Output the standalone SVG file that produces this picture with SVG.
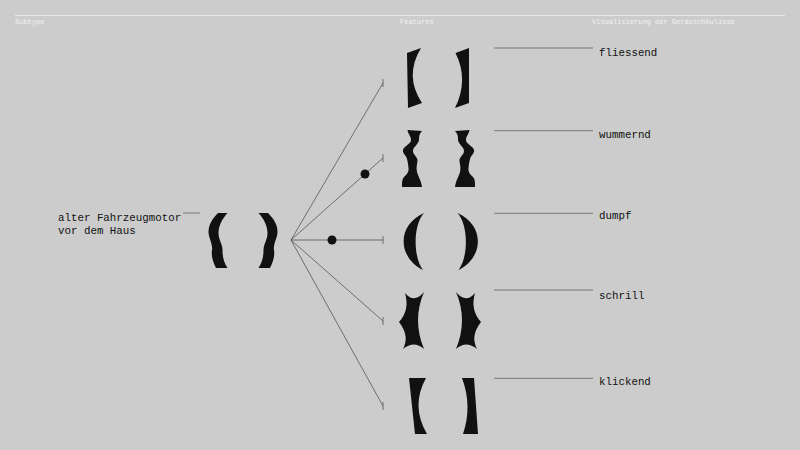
<svg xmlns="http://www.w3.org/2000/svg" width="800" height="450" viewBox="0 0 800 450">
<defs>
<style>
.hdr{font-family:"Liberation Mono","DejaVu Sans Mono",monospace;font-size:7px;fill:#f2f2f2}
.lbl{font-family:"Liberation Mono","DejaVu Sans Mono",monospace;font-size:10.8px;fill:#111}
.lead{stroke:#777;stroke-width:1;fill:none}
.conn{stroke:#555;stroke-width:0.8;fill:none}
.glyph{fill:#111}
.dot{fill:#111}
</style>
<marker id="tick" viewBox="0 0 4 10" refX="2" refY="5" markerWidth="4" markerHeight="10" markerUnits="userSpaceOnUse" orient="0">
<path d="M2,1 L2,9" stroke="#555" stroke-width="0.8" fill="none"/>
</marker>
</defs>
<rect width="800" height="450" fill="#cccccc"/>
<g id="header">
<line x1="15" y1="15.5" x2="785" y2="15.5" stroke="#e8e8e8" stroke-width="1"/>
<text class="hdr" x="15" y="24">Subtype</text>
<text class="hdr" x="400" y="24">Features</text>
<text class="hdr" x="592" y="24">Visualisierung der Geräuschkulisse</text>
</g>
<g id="connectors">
<line class="conn" x1="291" y1="240" x2="383" y2="83" marker-end="url(#tick)"/>
<line class="conn" x1="291" y1="240" x2="383" y2="158" marker-end="url(#tick)"/>
<line class="conn" x1="291" y1="240" x2="383" y2="240" marker-end="url(#tick)"/>
<line class="conn" x1="291" y1="240" x2="383" y2="321" marker-end="url(#tick)"/>
<line class="conn" x1="291" y1="240" x2="383" y2="406" marker-end="url(#tick)"/>
<circle class="dot" cx="365" cy="174" r="4.5"/>
<circle class="dot" cx="332" cy="240" r="4.5"/>
</g>
<g id="subtype">
<text class="lbl" x="58" y="220.5">alter Fahrzeugmotor</text>
<text class="lbl" x="58" y="233.5">vor dem Haus</text>
<line class="lead" x1="183" y1="213" x2="200" y2="213"/>
<path id="brace" class="glyph" d="M218,213 L227.5,213 C222,219 218.5,226 218.5,233 C218.5,240 222.5,244 222.5,250 C222.5,256 223.5,262 227.5,268 L216,268 C213,262 211,256 212,250 C213,244 208.5,238 208.5,232 C208.5,224 213,218 218,213 Z"/>
<use href="#brace" transform="translate(486,0) scale(-1,1)"/>
</g>
<g id="fliessend">
<path class="glyph" d="M407,53 L421,48 Q404,76 422,103 L408,108 Z"/>
<path class="glyph" d="M455.5,53 L469,48 L469,103 L455,108 Q469,80 455.5,53 Z"/>
<line class="lead" x1="494" y1="48" x2="593" y2="48"/>
<text class="lbl" x="599" y="55.7">fliessend</text>
</g>
<g id="wummernd">
<path id="wum" class="glyph" d="M407.5,130 L422,131 C419,134 419,137 419,140 C418,145 413,147 413,151 C413,155 418,157 417.5,161 C417,165 416,168 417,172 C418,176 421,180 422,187 L402,187 C402,182 402,179 404,177 C407,174 409,172 408.5,168 C408,164 408,163 407,159 C406,155 402,153 403,150 C404,146 411,144 411,140 C411,136 408,134 407.5,130 Z"/>
<use href="#wum" transform="translate(877,0) scale(-1,1)"/>
<line class="lead" x1="494" y1="130.7" x2="593" y2="130.7"/>
<text class="lbl" x="599" y="138">wummernd</text>
</g>
<g id="dumpf">
<path id="cres" class="glyph" d="M424,213 C397,225 397,257 423,270 C413,257 413,225 424,213 Z"/>
<use href="#cres" transform="translate(881.5,0) scale(-1,1)"/>
<line class="lead" x1="494" y1="213.3" x2="593" y2="213.3"/>
<text class="lbl" x="599" y="219">dumpf</text>
</g>
<g id="schrill">
<path id="spk" class="glyph" d="M405,293 Q414,304 424,292 Q412,320 424,349 Q414,340 403,349 Q410,336 399,322 Q410,310 405,293 Z"/>
<use href="#spk" transform="translate(880,0) scale(-1,1)"/>
<line class="lead" x1="494" y1="290" x2="593" y2="290"/>
<text class="lbl" x="599" y="299.3">schrill</text>
</g>
<g id="klickend">
<path class="glyph" d="M409,378 L426,378 Q410.5,406 427,434 L415,434 Z"/>
<path class="glyph" d="M462,378 L474,378 L478,434 L463,434 Q472.5,406 462,378 Z"/>
<line class="lead" x1="494" y1="378.3" x2="593" y2="378.3"/>
<text class="lbl" x="599" y="385">klickend</text>
</g>
</svg>
